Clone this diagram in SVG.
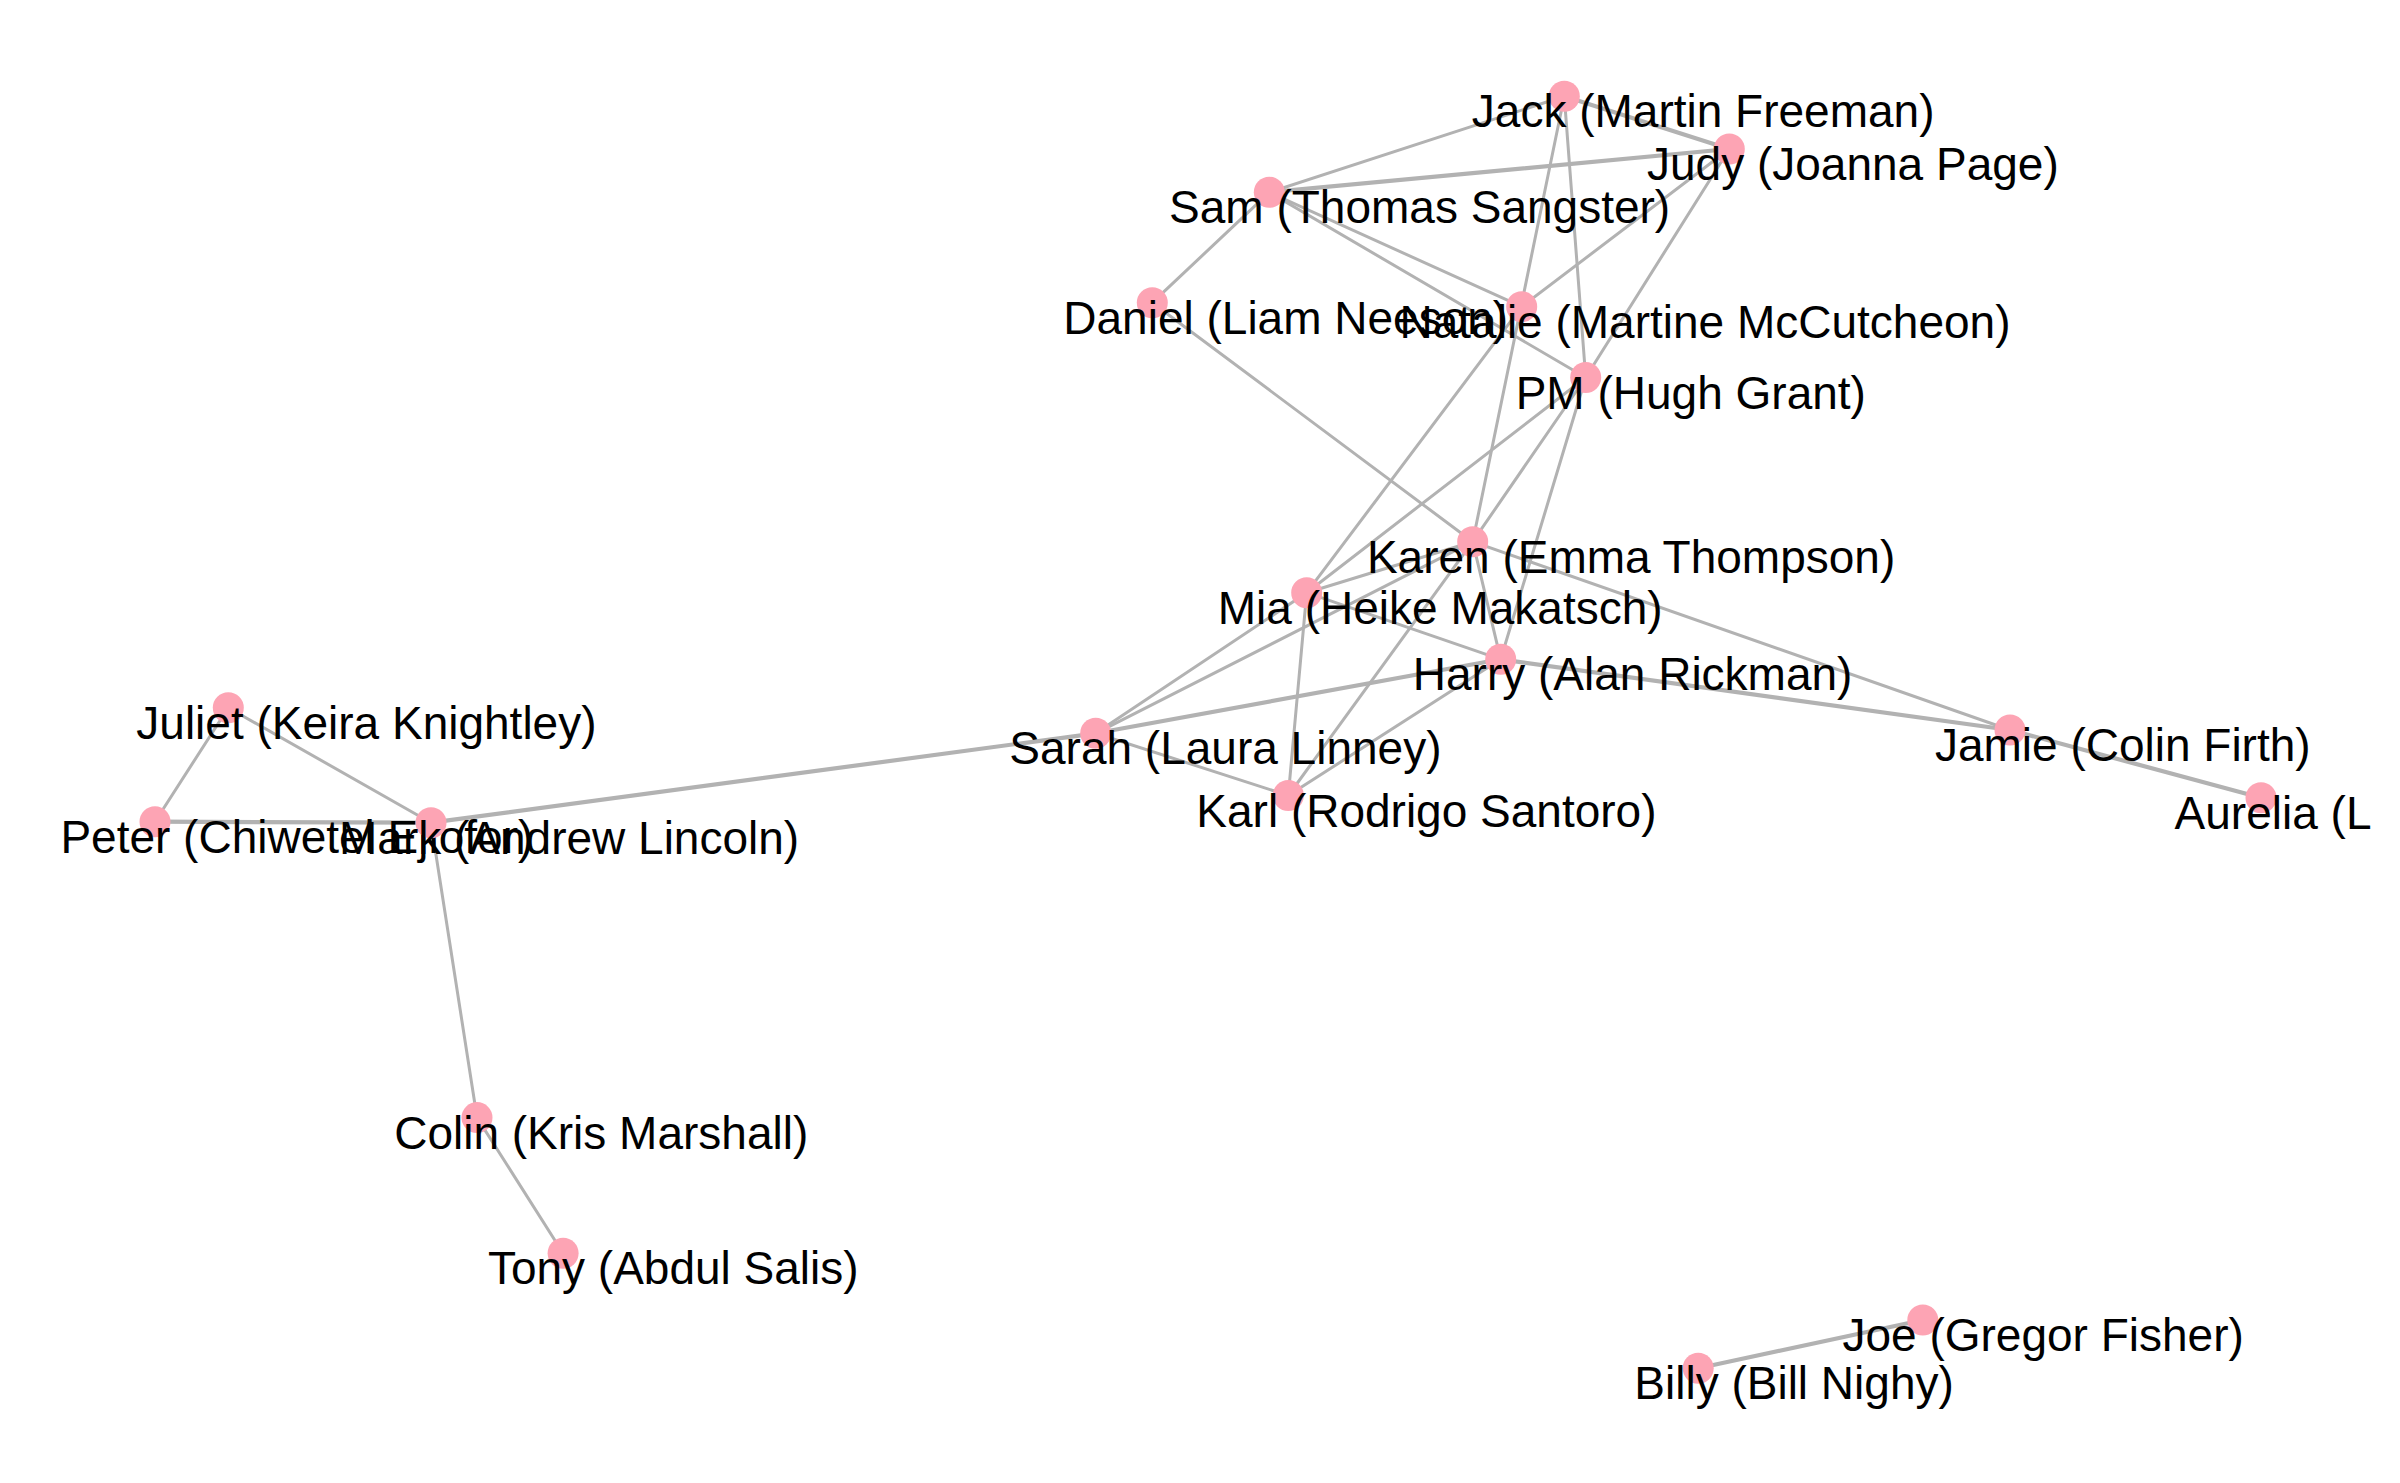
<svg xmlns="http://www.w3.org/2000/svg" width="2400" height="1483" viewBox="0 0 2400 1483">
<style>
.e{stroke:#b2b2b2;stroke-width:3;fill:none;stroke-linecap:round}
.w{stroke-width:4.2}
.n circle{fill:#fda4b4}
.n text{font-family:"Liberation Sans",Arial,sans-serif;font-size:46px;fill:#000}
</style>
<rect width="2400" height="1483" fill="#fff"/>
<g id="edges">
<line class="e" x1="1564.3" y1="96.3" x2="1269.3" y2="192.3"/>
<line class="e w" x1="1564.3" y1="96.3" x2="1729.3" y2="149"/>
<line class="e" x1="1564.3" y1="96.3" x2="1472.7" y2="541.7"/>
<line class="e" x1="1564.3" y1="96.3" x2="1585.7" y2="377.5"/>
<line class="e w" x1="1269.3" y1="192.3" x2="1729.3" y2="149"/>
<line class="e" x1="1269.3" y1="192.3" x2="1152.3" y2="302.7"/>
<line class="e" x1="1269.3" y1="192.3" x2="1521.7" y2="306.7"/>
<line class="e" x1="1269.3" y1="192.3" x2="1585.7" y2="377.5"/>
<line class="e" x1="1729.3" y1="149" x2="1521.7" y2="306.7"/>
<line class="e" x1="1729.3" y1="149" x2="1585.7" y2="377.5"/>
<line class="e" x1="1152.3" y1="302.7" x2="1472.7" y2="541.7"/>
<line class="e" x1="1521.7" y1="306.7" x2="1306.7" y2="592.7"/>
<line class="e" x1="1585.7" y1="377.5" x2="1306.7" y2="592.7"/>
<line class="e" x1="1585.7" y1="377.5" x2="1472.7" y2="541.7"/>
<line class="e" x1="1585.7" y1="377.5" x2="1500.7" y2="659.3"/>
<line class="e" x1="1472.7" y1="541.7" x2="1306.7" y2="592.7"/>
<line class="e" x1="1472.7" y1="541.7" x2="1500.7" y2="659.3"/>
<line class="e" x1="1472.7" y1="541.7" x2="1288.3" y2="795.5"/>
<line class="e" x1="1472.7" y1="541.7" x2="1095.7" y2="733.3"/>
<line class="e" x1="1472.7" y1="541.7" x2="2010" y2="730"/>
<line class="e" x1="1306.7" y1="592.7" x2="1095.7" y2="733.3"/>
<line class="e" x1="1306.7" y1="592.7" x2="1500.7" y2="659.3"/>
<line class="e" x1="1306.7" y1="592.7" x2="1288.3" y2="795.5"/>
<line class="e w" x1="1500.7" y1="659.3" x2="1095.7" y2="733.3"/>
<line class="e" x1="1500.7" y1="659.3" x2="1288.3" y2="795.5"/>
<line class="e w" x1="1500.7" y1="659.3" x2="2010" y2="730"/>
<line class="e" x1="1095.7" y1="733.3" x2="1288.3" y2="795.5"/>
<line class="e w" x1="1095.7" y1="733.3" x2="431" y2="822.7"/>
<line class="e w" x1="2010" y1="730" x2="2261" y2="797.7"/>
<line class="e" x1="431" y1="822.7" x2="228.3" y2="707.7"/>
<line class="e w" x1="431" y1="822.7" x2="155" y2="821.7"/>
<line class="e" x1="228.3" y1="707.7" x2="155" y2="821.7"/>
<line class="e" x1="431" y1="822.7" x2="477" y2="1117.6"/>
<line class="e" x1="477" y1="1117.6" x2="563.1" y2="1253.2"/>
<line class="e w" x1="1698.2" y1="1368.3" x2="1922.8" y2="1320"/>
</g>
<g id="n-jack" class="n"><circle cx="1564.3" cy="96.3" r="15.5"/><text x="1471.8" y="127.3">Jack (Martin Freeman)</text></g>
<g id="n-judy" class="n"><circle cx="1729.3" cy="149" r="15.5"/><text x="1647" y="180">Judy (Joanna Page)</text></g>
<g id="n-sam" class="n"><circle cx="1269.3" cy="192.3" r="15.5"/><text x="1169.1" y="223.3">Sam (Thomas Sangster)</text></g>
<g id="n-daniel" class="n"><circle cx="1152.3" cy="302.7" r="15.5"/><text x="1063.3" y="333.7">Daniel (Liam Neeson)</text></g>
<g id="n-natalie" class="n"><circle cx="1521.7" cy="306.7" r="15.5"/><text x="1399.5" y="337.7">Natalie (Martine McCutcheon)</text></g>
<g id="n-pm" class="n"><circle cx="1585.7" cy="377.5" r="15.5"/><text x="1515.7" y="408.5">PM (Hugh Grant)</text></g>
<g id="n-karen" class="n"><circle cx="1472.7" cy="541.7" r="15.5"/><text x="1366.9" y="572.7">Karen (Emma Thompson)</text></g>
<g id="n-mia" class="n"><circle cx="1306.7" cy="592.7" r="15.5"/><text x="1217.8" y="623.7">Mia (Heike Makatsch)</text></g>
<g id="n-harry" class="n"><circle cx="1500.7" cy="659.3" r="15.5"/><text x="1412.8" y="690.3">Harry (Alan Rickman)</text></g>
<g id="n-sarah" class="n"><circle cx="1095.7" cy="733.3" r="15.5"/><text x="1009.3" y="764.3">Sarah (Laura Linney)</text></g>
<g id="n-karl" class="n"><circle cx="1288.3" cy="795.5" r="15.5"/><text x="1196.3" y="826.5">Karl (Rodrigo Santoro)</text></g>
<g id="n-jamie" class="n"><circle cx="2010" cy="730" r="15.5"/><text x="1934.9" y="761">Jamie (Colin Firth)</text></g>
<g id="n-aurelia" class="n"><circle cx="2261" cy="797.7" r="15.5"/><text x="2174.6" y="828.7">Aurelia (L</text></g>
<g id="n-juliet" class="n"><circle cx="228.3" cy="707.7" r="15.5"/><text x="136.3" y="738.7">Juliet (Keira Knightley)</text></g>
<g id="n-peter" class="n"><circle cx="155" cy="821.7" r="15.5"/><text x="60.4" y="852.7">Peter (Chiwetel Ejiofor)</text></g>
<g id="n-mark" class="n"><circle cx="431" cy="822.7" r="15.5"/><text x="339" y="853.7">Mark (Andrew Lincoln)</text></g>
<g id="n-colin" class="n"><circle cx="477" cy="1117.6" r="15.5"/><text x="394.2" y="1148.6">Colin (Kris Marshall)</text></g>
<g id="n-tony" class="n"><circle cx="563.1" cy="1253.2" r="15.5"/><text x="487.9" y="1284.2">Tony (Abdul Salis)</text></g>
<g id="n-joe" class="n"><circle cx="1922.8" cy="1320" r="15.5"/><text x="1842.5" y="1351">Joe (Gregor Fisher)</text></g>
<g id="n-billy" class="n"><circle cx="1698.2" cy="1368.3" r="15.5"/><text x="1634.3" y="1399.3">Billy (Bill Nighy)</text></g>
</svg>
